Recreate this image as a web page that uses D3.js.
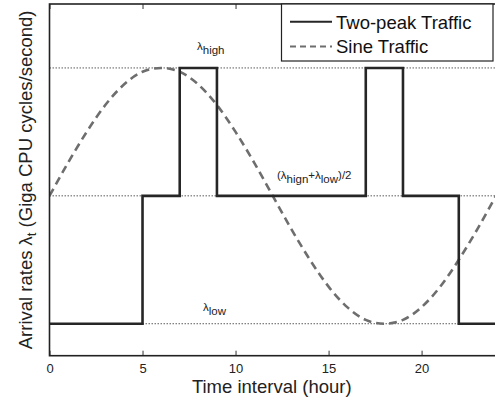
<!DOCTYPE html>
<html>
<head>
<meta charset="utf-8">
<script src="https://cdn.jsdelivr.net/npm/d3@7"></script>
<style>
  html, body { margin: 0; padding: 0; background: #fff; }
  svg { display: block; font-family: "Liberation Sans", Arial, Helvetica, sans-serif; }
</style>
</head>
<body>
<svg id="chart" width="495" height="405"></svg>
<script>
// ---- data ----
const hours = [0,1,2,3,4,5,6,7,8,9,10,11,12,13,14,15,16,17,18,19,20,21,22,23,24];
const sineTraffic = [2.00,2.26,2.50,2.71,2.87,2.97,3.00,2.97,2.87,2.71,2.50,2.26,2.00,1.74,1.50,1.29,1.13,1.03,1.00,1.03,1.13,1.29,1.50,1.74,2.00];
const stepHours = [0,5,7,9,17,19,22,24];
const twoPeakTraffic = [1,2,3,2,3,2,1,1];
const levelValues = [3,2,1];
const xTicks = [0,5,10,15,20];
const seriesNames = ["Two-peak Traffic","Sine Traffic"];

// ---- layout ----
const svg = d3.select("#chart");
const pL = 49.5, pR = 496, pT = 4, pB = 355.7;
const x = d3.scaleLinear().domain([0,24]).range([pL,pR]);
const y = d3.scaleLinear().domain([0.75,3.5]).range([pB,pT]);

svg.append("defs").append("clipPath").attr("id","clip")
  .append("rect").attr("x",pL).attr("y",pT).attr("width",pR-pL).attr("height",pB-pT);

// level dotted lines
svg.append("g").selectAll("line").data(levelValues).join("line")
  .attr("x1",x(0)).attr("x2",x(24))
  .attr("y1",d=>y(d)).attr("y2",d=>y(d))
  .attr("stroke","#333").attr("stroke-width",0.8).attr("stroke-dasharray","1.5,1.5");

const plot = svg.append("g").attr("clip-path","url(#clip)");

// sine
const sineData = hours.map((h,i)=>[h,sineTraffic[i]]);
plot.append("path").datum(sineData)
  .attr("d", d3.line().x(d=>x(d[0])).y(d=>y(d[1])).curve(d3.curveNatural))
  .attr("fill","none").attr("stroke","#6e6e6e").attr("stroke-width",2.6)
  .attr("stroke-dasharray","8,5");

// two-peak step
const stepData = stepHours.map((h,i)=>[h,twoPeakTraffic[i]]);
plot.append("path").datum(stepData)
  .attr("d", d3.line().x(d=>x(d[0])).y(d=>y(d[1])).curve(d3.curveStepAfter))
  .attr("fill","none").attr("stroke","#262626").attr("stroke-width",2.6);

// axes
const xAxisB = d3.axisBottom(x).tickValues(xTicks).tickSizeInner(-5).tickSizeOuter(0).tickPadding(8);
const gB = svg.append("g").attr("transform",`translate(0,${pB})`).call(xAxisB);
gB.select(".domain").remove();
gB.selectAll("line").attr("stroke","#333");
gB.selectAll("text").attr("font-size",13).attr("fill","#222")
  .attr("font-family","Liberation Sans, Arial, sans-serif");

const xAxisT = d3.axisTop(x).tickValues(xTicks).tickSizeInner(-5).tickSizeOuter(0).tickFormat("");
const gT = svg.append("g").attr("transform",`translate(0,${pT})`).call(xAxisT);
gT.select(".domain").remove();
gT.selectAll("line").attr("stroke","#333");

// frame
svg.append("rect").attr("x",pL).attr("y",pT).attr("width",pR-pL).attr("height",pB-pT)
  .attr("fill","none").attr("stroke","#222").attr("stroke-width",1.6);

// level labels
function lam(g, xx, yy, parts) {
  const t = g.append("text").attr("x",xx).attr("y",yy).attr("font-size",11.5).attr("fill","#222");
  parts.forEach(p => {
    t.append("tspan").text(p.t).attr("font-size",p.s||11.5)
      .attr("dy",p.dy||0);
  });
  return t;
}
lam(svg, 197, 50, [{t:"λ"},{t:"high",dy:4}]);
lam(svg, 277, 179, [{t:"(λ"},{t:"hign",dy:4},{t:"+λ",dy:-4},{t:"low",dy:4},{t:")/2",dy:-4}]);
lam(svg, 203, 311, [{t:"λ"},{t:"low",dy:4}]);

// axis titles
svg.append("text").attr("x",(pL + x(24))/2 - 1).attr("y",393).attr("text-anchor","middle")
  .attr("font-size",18.5).attr("fill","#222").text("Time interval (hour)");

const yl = svg.append("text").attr("transform",`translate(31.5,${(pT+pB)/2}) rotate(-90)`)
  .attr("text-anchor","middle").attr("font-size",18.5).attr("fill","#222");
yl.append("tspan").text("Arrival rates λ");
yl.append("tspan").text("t").attr("font-size",13).attr("dy",4);
yl.append("tspan").text(" (Giga CPU cycles/second)").attr("dy",-4);

// legend
const lg = svg.append("g");
lg.append("rect").attr("x",281.5).attr("y",pT).attr("width",211.5).attr("height",57)
  .attr("fill","#fff").attr("stroke","#222").attr("stroke-width",1.2);
const legY = [21.7, 46.5];
seriesNames.forEach((n,i)=>{
  lg.append("line").attr("x1",290).attr("x2",332).attr("y1",legY[i]).attr("y2",legY[i])
    .attr("stroke", i===0 ? "#262626" : "#6e6e6e").attr("stroke-width", 2)
    .attr("stroke-dasharray", i===0 ? null : "6,4");
  lg.append("text").attr("x",336).attr("y",legY[i]+6.8).attr("font-size",18.5).attr("fill","#111").text(n);
});
</script>
</body>
</html>
